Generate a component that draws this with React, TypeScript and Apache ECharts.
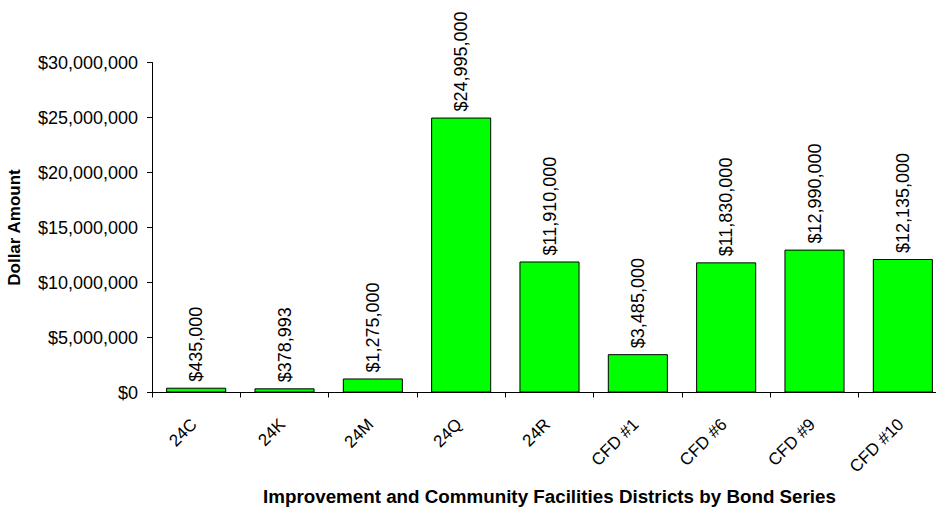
import React, { useEffect, useRef } from "react";
import * as echarts from "echarts";

const categories = ["24C", "24K", "24M", "24Q", "24R", "CFD #1", "CFD #6", "CFD #9", "CFD #10"];
const amounts = [435000, 378993, 1275000, 24995000, 11910000, 3485000, 11830000, 12990000, 12135000];
const yTicks = [0, 5000000, 10000000, 15000000, 20000000, 25000000, 30000000];

const FONT = "'Liberation Sans', Arial, Helvetica, sans-serif";

const money = (v: number) => "$" + v.toLocaleString("en-US");

export default function App() {
  const ref = useRef<HTMLDivElement>(null);

  useEffect(() => {
    if (!ref.current) return;
    const chart = echarts.init(ref.current, undefined, { renderer: "svg" });
    chart.setOption({
      animation: false,
      backgroundColor: "#ffffff",
      textStyle: { fontFamily: FONT },
      // the category axis runs on past the right edge of the canvas
      grid: {
        left: 152,
        top: 62.5,
        height: 330,
        width: 795,
        containLabel: false,
        outerBoundsMode: "none",
      },
      xAxis: {
        type: "category",
        data: categories,
        name: "Improvement and Community Facilities Districts by Bond Series",
        nameLocation: "middle",
        nameGap: 94.5,
        nameTextStyle: { fontFamily: FONT, fontSize: 18.8, fontWeight: "bold", color: "#000" },
        axisLine: { lineStyle: { color: "#000", width: 1 } },
        axisTick: { show: true, length: 5, alignWithLabel: false, lineStyle: { color: "#000" } },
        axisLabel: {
          rotate: 45,
          interval: 0,
          margin: 27,
          padding: [0, 3, 0, 0],
          fontFamily: FONT,
          fontSize: 17,
          color: "#000",
        },
      },
      yAxis: {
        type: "value",
        min: yTicks[0],
        max: yTicks[yTicks.length - 1],
        interval: yTicks[1] - yTicks[0],
        name: "Dollar Amount",
        nameLocation: "middle",
        nameGap: 129,
        nameTextStyle: { fontFamily: FONT, fontSize: 17, fontWeight: "bold", color: "#000" },
        axisLine: { show: true, lineStyle: { color: "#000", width: 1 } },
        axisTick: { show: true, length: 5, lineStyle: { color: "#000" } },
        splitLine: { show: false },
        axisLabel: {
          margin: 14,
          fontFamily: FONT,
          fontSize: 18,
          color: "#000",
          formatter: (v: number) => money(v),
        },
      },
      series: [
        {
          type: "bar",
          data: amounts,
          barWidth: "68%",
          itemStyle: { color: "#00ff00", borderColor: "#000", borderWidth: 1 },
          label: {
            show: true,
            position: "top",
            rotate: 90,
            align: "left",
            verticalAlign: "middle",
            distance: 6,
            fontFamily: FONT,
            fontSize: 18,
            color: "#000",
            formatter: (p: any) => money(p.value),
          },
        },
      ],
    });
    return () => chart.dispose();
  }, []);

  return (
    <div
      ref={ref}
      style={{ position: "absolute", left: 0, top: 0, width: 936, height: 508, background: "#fff" }}
    />
  );
}
